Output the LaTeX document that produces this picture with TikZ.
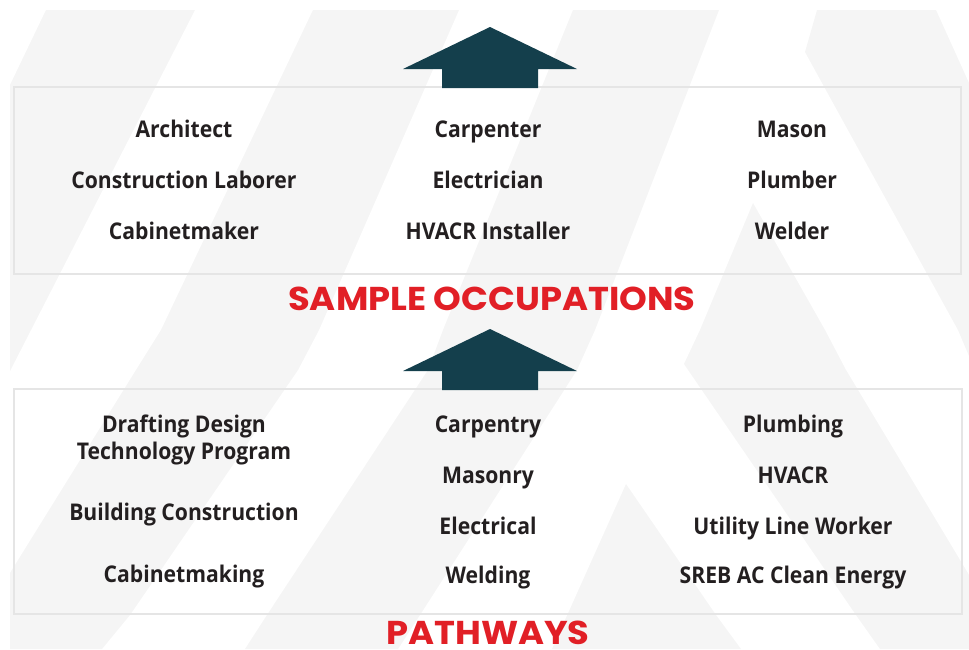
\documentclass[tikz,border=0pt]{standalone}
\usepackage{fontspec}
\setmainfont{Open Sans}[BoldFeatures={FakeStretch=0.92}]
\newfontfamily\titlefont{Poppins}[BoldFeatures={FakeStretch=1.07}]
\usetikzlibrary{positioning}

\definecolor{stripegray}{HTML}{F5F5F5}
\definecolor{framegray}{HTML}{E5E5E5}
\definecolor{arrowteal}{HTML}{143F4C}
\definecolor{titlered}{HTML}{E11F26}
\definecolor{textdark}{HTML}{231F20}

\tikzset{
  item/.style={font=\fontsize{23}{27}\selectfont\bfseries, text=textdark, anchor=base, inner sep=0pt},
  heading/.style={font=\titlefont\fontsize{33}{38}\selectfont\bfseries, text=titlered, anchor=base, inner sep=0pt},
  panel/.style={draw=framegray, line width=2.5pt},
  uparrow/.style={fill=arrowteal},
  stripe/.style={fill=stripegray}
}

\begin{document}
\begin{tikzpicture}[x=1pt,y=-1pt]
\useasboundingbox (0,0) rectangle (969,649);
\clip (0,0) rectangle (969,649);

% background stripes
\fill[stripe] (46,10) -- (195,10) -- (31,330) -- (10,371) -- (10,85) -- cycle;
\fill[stripe] (313,10) -- (459,10) -- (319,330) -- (298,370) -- (130,615) -- (102,649)
      -- (10,649) -- (10,573) -- (136,370) -- (161,330) -- cycle;
\fill[stripe] (573,10) -- (719,10) -- (595,330) -- (577,370) -- (420,615) -- (398,649)
      -- (245,649) -- (267,615) -- (428,370) -- (443,330) -- cycle;
\fill[stripe] (817,10) -- (936,10) -- (969,83) -- (969,356) -- (958,330) -- (805,52) -- cycle;
\fill[stripe] (753,203) -- (825,330) -- (846,370) -- (969,575) -- (969,649) -- (880,649)
      -- (856,615) -- (684,364) -- (700,330) -- cycle;
\fill[stripe] (626,484) -- (716,615) -- (741,649) -- (552,649) -- cycle;

% boxes
\draw[panel] (14,87) rectangle (961,274);
\draw[panel] (14,389) rectangle (962,614);

% arrows
\foreach \ty in {27,329}
  \fill[uparrow] (490,\ty) -- ++(87,42) -- ++(-39,0) -- ++(0,19) -- ++(-96,0)
        -- ++(0,-19) -- ++(-39,0) -- cycle;

% occupations
\node[item] (architect) at (184,137) {Architect};
\node[item] (laborer) at (184,188) {Construction Laborer};
\node[item] (cabinetmaker) at (184,239) {Cabinetmaker};
\node[item] (carpenter) at (488,137) {Carpenter};
\node[item] (electrician) at (488,188) {Electrician};
\node[item] (hvacrinst) at (488,239) {HVACR Installer};
\node[item] (mason) at (792,137) {Mason};
\node[item] (plumber) at (792,188) {Plumber};
\node[item] (welder) at (792,239) {Welder};

\node[heading] (occtitle) at (492,310) {SAMPLE OCCUPATIONS};

% pathways
\node[item] (drafting) at (184,432) {Drafting Design};
\node[item] (technology) at (184,459) {Technology Program};
\node[item] (building) at (184,520) {Building Construction};
\node[item] (cabinetmaking) at (184,582) {Cabinetmaking};
\node[item] (carpentry) at (488,432) {Carpentry};
\node[item] (masonry) at (488,483) {Masonry};
\node[item] (electrical) at (488,534) {Electrical};
\node[item] (welding) at (488,583) {Welding};
\node[item] (plumbing) at (793,432) {Plumbing};
\node[item] (hvacr) at (793,483) {HVACR};
\node[item] (utility) at (793,534) {Utility Line Worker};
\node[item] (cleanenergy) at (793,583) {SREB AC Clean Energy};

\node[heading] (pathtitle) at (488,644) {PATHWAYS};

\end{tikzpicture}
\end{document}
